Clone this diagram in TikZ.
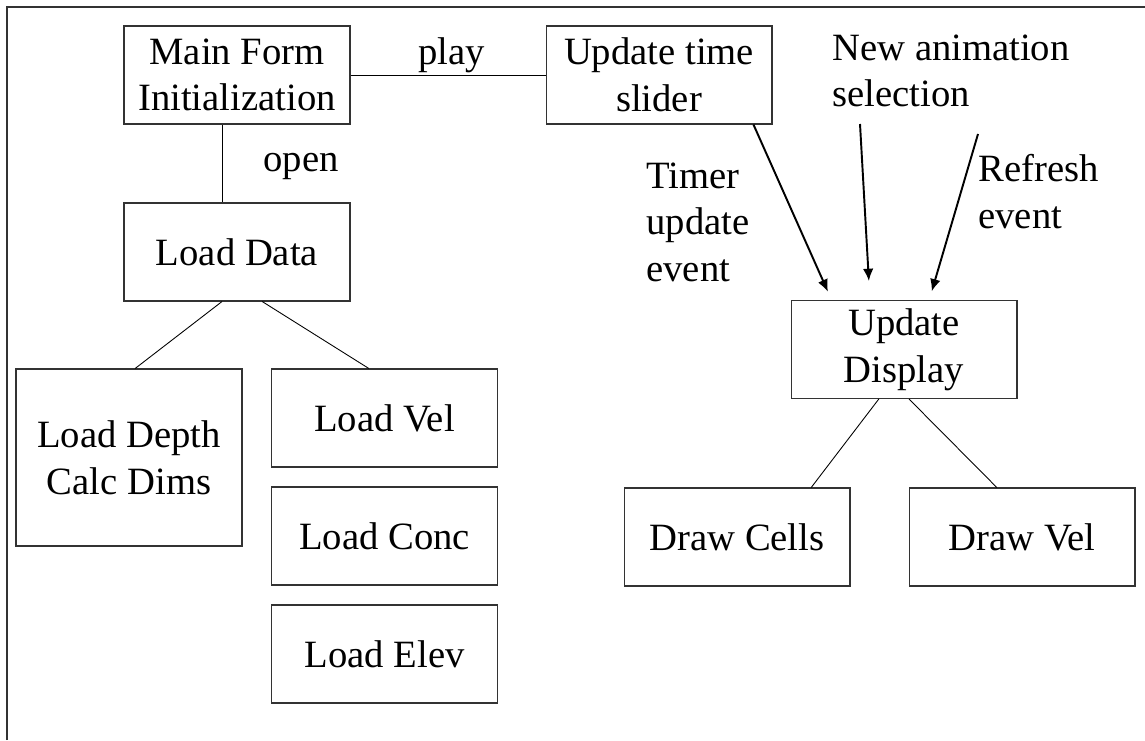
\documentclass[tikz,border=0pt]{standalone}
\usepackage{fontspec}
\setmainfont{Liberation Serif}
\usepackage{tikz}
\usetikzlibrary{arrows.meta,calc,positioning}

\begin{document}
\begin{tikzpicture}[x=0.02cm,y=-0.02cm,
  every node/.style={font=\fontsize{22}{26.5}\selectfont},
  box/.style={draw=black!80,line width=0.6pt,align=center,minimum width=4.52cm,minimum height=1.96cm,inner sep=0pt},
  note/.style={align=left,anchor=base west,inner sep=0pt},
  link/.style={line width=0.5pt},
  evarrow/.style={line width=1.1pt,-{Latex[length=7pt,width=6pt]}}]
\useasboundingbox (0,0) rectangle (1145,740);
\draw[black!80,line width=0.7pt] (7,740) -- (7,7) -- (1145,7);

\node[box] (main) at (237,75) {Main Form\\Initialization};
\node[box] (slider) at (659,75) {Update time\\slider};
\node[box] (load) at (237,252) {Load Data};
\node[box,minimum height=3.54cm] (depth) at (129,457.5) {Load Depth\\Calc Dims};
\node[box] (vel) at (384.5,418) {Load Vel};
\node[box] (conc) at (384.5,536) {Load Conc};
\node[box] (elev) at (384.5,654) {Load Elev};
\node[box] (disp) at (904,349.5) {Update\\Display};
\node[box] (cells) at (737,537) {Draw Cells};
\node[box] (dvel) at (1022,537) {Draw Vel};

% multi-line notes sit on their last baseline
\node[note] (play) at (418,65) {play};
\node[note] (open) at (263,171) {open};
\node[note] (timer) at (646,281.5) {Timer\\update\\event};
\node[note] (newsel) at (832,106.7) {New animation\\selection};
\node[note] (refresh) at (978,228) {Refresh\\event};

\draw[link] (main) -- (slider);
\draw[link] ($(main.south west)!0.434!(main.south east)$) -- ($(load.north west)!0.434!(load.north east)$);
\draw[link] ($(load.south west)!0.434!(load.south east)$) -- ($(depth.north west)!0.527!(depth.north east)$);
\draw[link] ($(load.south west)!0.611!(load.south east)$) -- ($(vel.north west)!0.431!(vel.north east)$);
\draw[link] ($(disp.south west)!0.389!(disp.south east)$) -- ($(cells.north west)!0.827!(cells.north east)$);
\draw[link] ($(disp.south west)!0.522!(disp.south east)$) -- ($(dvel.north west)!0.389!(dvel.north east)$);

\coordinate (selfoot) at (860,124);
\coordinate (reffoot) at (978,134);
\draw[evarrow,shorten >=0.18cm] ($(slider.south west)!0.916!(slider.south east)$) -- ($(disp.north west)!0.181!(disp.north east)$);
\draw[evarrow,shorten >=0.38cm] (selfoot) -- ($(disp.north west)!0.35!(disp.north east)$);
\draw[evarrow,shorten >=0.18cm] (reffoot) -- ($(disp.north west)!0.611!(disp.north east)$);
\end{tikzpicture}
\end{document}
